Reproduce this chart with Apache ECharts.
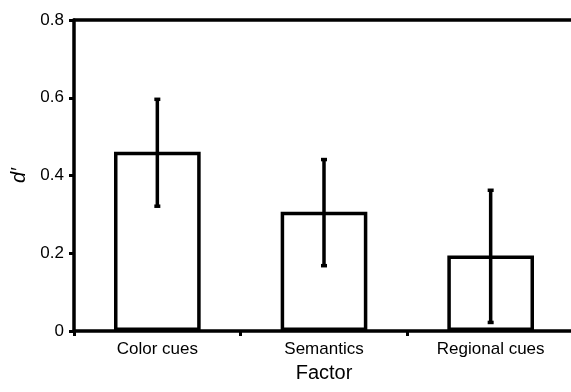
<!DOCTYPE html>
<html>
<head>
<meta charset="utf-8">
<script src="https://cdn.jsdelivr.net/npm/echarts@6/dist/echarts.min.js"></script>
<style>
  html, body { margin: 0; padding: 0; background: #fff; }
  #chart { width: 571px; height: 392px; }
</style>
</head>
<body>
<div id="chart"></div>
<script>
const categories = ["Color cues", "Semantics", "Regional cues"];
const means = [0.461, 0.307, 0.194];
const errLow = [0.321, 0.168, 0.022];
const errHigh = [0.596, 0.441, 0.362];
const yTicks = [0, 0.2, 0.4, 0.6, 0.8];

const chart = echarts.init(document.getElementById("chart"));
const font = "Liberation Sans, Arial, sans-serif";

chart.setOption({
  animation: false,
  grid: { left: 74, right: -3, top: 20, bottom: 61, containLabel: false, outerBoundsMode: "none" },
  xAxis: [
    {
      type: "category",
      data: categories,
      name: "Factor",
      nameLocation: "middle",
      nameGap: 32,
      nameTextStyle: { color: "#000", fontSize: 20, fontFamily: font },
      axisLine: { lineStyle: { color: "#000", width: 3.5 } },
      axisTick: { show: true, length: 5, lineStyle: { color: "#000", width: 3 } },
      axisLabel: { color: "#000", fontSize: 17, fontFamily: font, margin: 10 }
    },
    {
      type: "category",
      data: categories,
      position: "top",
      axisLine: { lineStyle: { color: "#000", width: 3.5 } },
      axisTick: { show: false },
      axisLabel: { show: false }
    }
  ],
  yAxis: {
    type: "value",
    min: 0,
    max: 0.8,
    interval: 0.2,
    name: "d′",
    nameLocation: "middle",
    nameGap: 44,
    nameRotate: 90,
    nameTextStyle: { color: "#000", fontSize: 20, fontStyle: "italic", fontFamily: font },
    axisLine: { show: true, lineStyle: { color: "#000", width: 3.5 } },
    axisTick: { show: true, length: 5, lineStyle: { color: "#000", width: 3 } },
    splitLine: { show: false },
    axisLabel: {
      color: "#000", fontSize: 17, fontFamily: font, margin: 10,
      formatter: v => (yTicks.includes(+v.toFixed(1)) ? (v === 0 ? "0" : v.toFixed(1)) : "")
    }
  },
  series: [
    {
      type: "bar",
      data: means,
      barWidth: "52%",
      itemStyle: { color: "#fff", borderColor: "#000", borderWidth: 3.5 }
    },
    {
      type: "custom",
      data: categories.map((c, i) => [i, errLow[i], errHigh[i]]),
      renderItem: (params, api) => {
        const lo = api.coord([api.value(0), api.value(1)]);
        const hi = api.coord([api.value(0), api.value(2)]);
        const cap = 3;
        const style = { stroke: "#000", lineWidth: 3.5 };
        return {
          type: "group",
          children: [
            { type: "line", shape: { x1: lo[0], y1: lo[1], x2: hi[0], y2: hi[1] }, style },
            { type: "line", shape: { x1: hi[0] - cap, y1: hi[1], x2: hi[0] + cap, y2: hi[1] }, style },
            { type: "line", shape: { x1: lo[0] - cap, y1: lo[1], x2: lo[0] + cap, y2: lo[1] }, style }
          ]
        };
      },
      z: 5
    }
  ]
});
</script>
</body>
</html>
